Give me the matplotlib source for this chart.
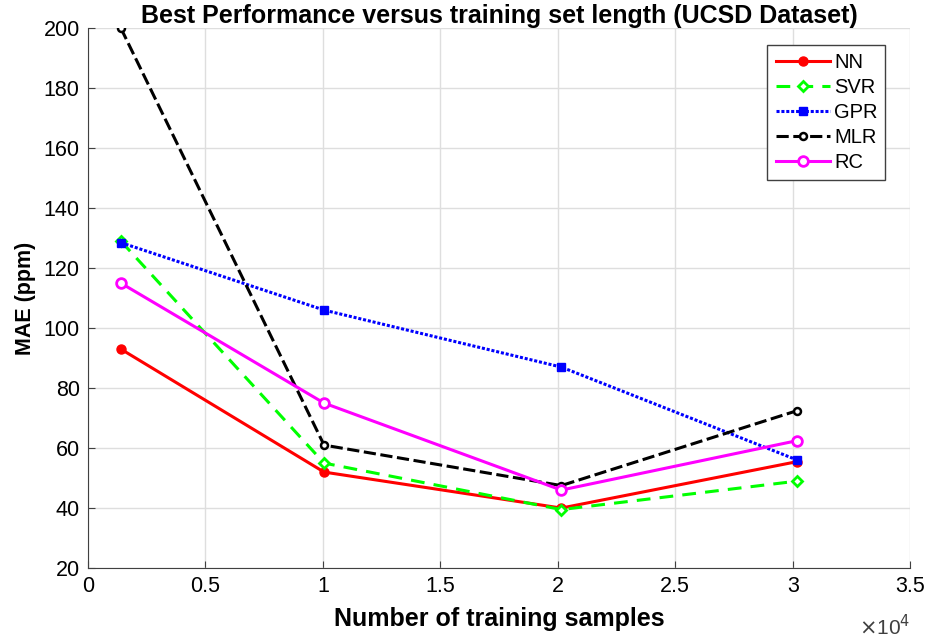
import matplotlib as mpl
import matplotlib.pyplot as plt

mpl.rcParams['font.family'] = ['Liberation Sans', 'DejaVu Sans']

# training set sizes (samples)
n_samples = [1400, 10050, 20150, 30200]

mae_nn = [93, 52, 40, 55.5]
mae_svr = [129, 55, 39.5, 49]
mae_gpr = [128.5, 106, 87, 56]
mae_mlr = [200, 61, 47.5, 72.5]
mae_rc = [115, 75, 46, 62.5]

x_ticks = [0, 0.5, 1, 1.5, 2, 2.5, 3, 3.5]
y_ticks = [20, 40, 60, 80, 100, 120, 140, 160, 180, 200]

fig = plt.figure(figsize=(9.29, 6.39), dpi=100)
ax = fig.add_axes([0.0947, 0.111, 0.885, 0.845])

xs = [v / 1e4 for v in n_samples]

ax.plot(xs, mae_nn, color='#ff0000', linestyle='-', linewidth=2.2, marker='o', markersize=6.5, label='NN')
ax.plot(xs, mae_svr, color='#00ff00', linestyle=(0, (4.5, 3)), linewidth=2.2, marker='D', markersize=5,
        markerfacecolor='white', markeredgewidth=2, label='SVR')
ax.plot(xs, mae_gpr, color='#0000ff', linestyle=(0, (1, 0.6)), linewidth=2.2, marker='s', markersize=6, label='GPR')
ax.plot(xs, mae_mlr, color='black', linestyle=(0, (4, 1.5)), linewidth=2.2, marker='o', markersize=5,
        markerfacecolor='white', markeredgewidth=1.8, label='MLR')
ax.plot(xs, mae_rc, color='#ff00ff', linestyle='-', linewidth=2.2, marker='o', markersize=7,
        markerfacecolor='white', markeredgewidth=2, label='RC')

ax.set_xlim(0, 3.5)
ax.set_ylim(20, 200)
ax.set_xticks(x_ticks, [f"{t:g}" for t in x_ticks], fontsize=15.5)
ax.set_yticks(y_ticks, [str(t) for t in y_ticks], fontsize=15.5)
ax.grid(True, color='#dedede', linewidth=1)
ax.set_axisbelow(True)
ax.spines['top'].set_visible(False)
ax.spines['right'].set_visible(False)
ax.spines['left'].set_color('#404040')
ax.spines['bottom'].set_color('#404040')
ax.tick_params(direction='in', length=5, color='#404040', labelcolor='black', pad=6)

ax.set_title('Best Performance versus training set length (UCSD Dataset)', fontsize=18, fontweight='bold', pad=4)
ax.set_xlabel('Number of training samples', fontsize=18, fontweight='bold', labelpad=7)
ax.set_ylabel('MAE (ppm)', fontsize=15.5, fontweight='bold', labelpad=5)
ax.text(1.0, -0.085, r'$\times$10$^4$', transform=ax.transAxes, ha='right', va='top', fontsize=15, color='#404040')

leg = ax.legend(loc='upper right', bbox_to_anchor=(0.97, 0.9685), fontsize=14.5, handlelength=2.7,
                handletextpad=0.2, labelspacing=0.3, fancybox=False, framealpha=1, borderpad=0.4,
                borderaxespad=0)
leg.get_frame().set_edgecolor('#404040')
leg.get_frame().set_linewidth(1)

plt.savefig('out.png', dpi=100)
